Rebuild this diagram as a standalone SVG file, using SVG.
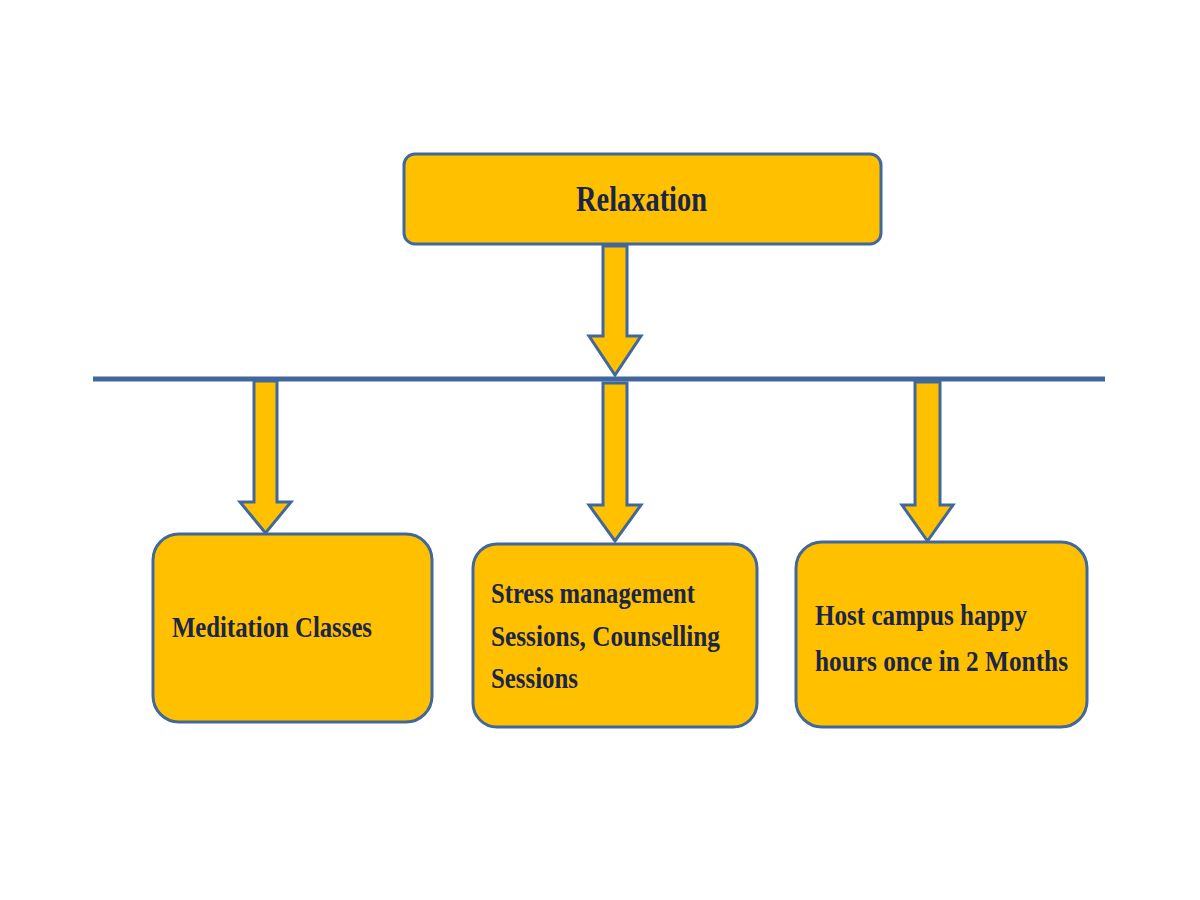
<svg xmlns="http://www.w3.org/2000/svg" width="1200" height="900" viewBox="0 0 1200 900">
<style>
.box{fill:#FFC000;stroke:#41689C;stroke-width:3}
.arr{fill:#FFC000;stroke:#41689C;stroke-width:3;stroke-linejoin:miter}
.t{font-family:"Liberation Serif","Times New Roman",serif;font-weight:bold;fill:#1A2547}
</style>
<rect width="1200" height="900" fill="#FFFFFF"/>
<g id="connectors">
<polygon class="arr" points="603,246 627,246 627,336 641,336 615,375 589,336 603,336"/>
<polygon class="arr" points="254,381 277,381 277,502 291,502 265.5,533 240,502 254,502"/>
<polygon class="arr" points="603,383 627,383 627,505 641,505 615,541 589,505 603,505"/>
<polygon class="arr" points="915,382 940,382 940,505 953,505 927.5,541 902,505 915,505"/>
<line x1="93" y1="379" x2="1105" y2="379" stroke="#41689C" stroke-width="5"/>
</g>
<g id="relaxation">
<rect class="box" x="404" y="154" width="477" height="90" rx="11"/>
<text class="t" x="576" y="211" font-size="36" textLength="131" lengthAdjust="spacingAndGlyphs">Relaxation</text>
</g>
<g id="meditation">
<rect class="box" x="153" y="534" width="279" height="188" rx="26"/>
<text class="t" x="172" y="637" font-size="29" textLength="200" lengthAdjust="spacingAndGlyphs">Meditation Classes</text>
</g>
<g id="stress">
<rect class="box" x="473" y="544" width="284" height="183" rx="24"/>
<text class="t" x="491" y="603" font-size="29" textLength="204" lengthAdjust="spacingAndGlyphs">Stress management</text>
<text class="t" x="491" y="646" font-size="29" textLength="229" lengthAdjust="spacingAndGlyphs">Sessions, Counselling</text>
<text class="t" x="491" y="688" font-size="29" textLength="87" lengthAdjust="spacingAndGlyphs">Sessions</text>
</g>
<g id="host">
<rect class="box" x="796" y="542" width="291" height="185" rx="26"/>
<text class="t" x="815" y="625" font-size="29" textLength="212" lengthAdjust="spacingAndGlyphs">Host campus happy</text>
<text class="t" x="815" y="671" font-size="29" textLength="253" lengthAdjust="spacingAndGlyphs">hours once in 2 Months</text>
</g>
</svg>
